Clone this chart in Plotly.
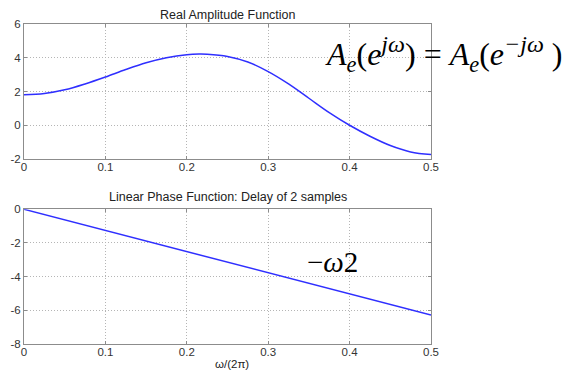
import plotly.graph_objects as go

# Data
freq = [0, 0.025, 0.05, 0.075, 0.1, 0.125, 0.15, 0.175, 0.2, 0.215, 0.225, 0.25,
        0.275, 0.3, 0.325, 0.35, 0.375, 0.4, 0.425, 0.45, 0.475, 0.5]
amplitude = [1.80, 1.88, 2.10, 2.45, 2.86, 3.30, 3.70, 4.00, 4.18, 4.22, 4.21, 4.08,
             3.75, 3.18, 2.45, 1.60, 0.75, 0.00, -0.65, -1.20, -1.58, -1.74]
phase_freq = [0, 0.5]
phase = [0, -6.28]

x_ticks = [0, 0.1, 0.2, 0.3, 0.4, 0.5]
x_tick_labels = ["0", "0.1", "0.2", "0.3", "0.4", "0.5"]
y_ticks_top = [-2, 0, 2, 4, 6]
y_tick_labels_top = ["-2", "0", "2", "4", "6"]
y_ticks_bot = [-8, -6, -4, -2, 0]
y_tick_labels_bot = ["-8", "-6", "-4", "-2", "0"]

# page body has an 8px margin, so the figure is drawn 8px in from the window corner
OFF = 8
W, H = 576 - OFF, 373 - OFF
line_color = "#2f2fff"
frame = "#8c8c8c"
tick_font = dict(family="Liberation Sans, Arial, sans-serif", size=11.5, color="#333333")

fig = go.Figure()
fig.add_trace(go.Scatter(x=freq, y=amplitude, mode="lines", line=dict(color=line_color, width=1.5, shape="spline"),
                         xaxis="x", yaxis="y", showlegend=False, hoverinfo="skip"))
fig.add_trace(go.Scatter(x=phase_freq, y=phase, mode="lines", line=dict(color=line_color, width=1.5),
                         xaxis="x2", yaxis="y2", showlegend=False, hoverinfo="skip"))

def xd(px):
    return (px - OFF) / W

def yd(py):
    return 1 - (py - OFF) / H

axis_common = dict(showline=True, linecolor=frame, linewidth=1, mirror="ticks", ticks="inside", ticklen=3,
                   tickcolor=frame, showgrid=True, gridcolor="#b5b5b5", griddash="1px,2px", gridwidth=1,
                   zeroline=False, tickfont=tick_font, fixedrange=True, automargin=False)

fig.update_layout(
    template="none",
    width=W, height=H,
    margin=dict(l=0, r=0, t=0, b=0),
    paper_bgcolor="white", plot_bgcolor="white",
    xaxis=dict(domain=[xd(24), xd(431)], range=[0, 0.5], tickvals=x_ticks, ticktext=x_tick_labels,
               anchor="y", ticklabelstandoff=-3, **axis_common),
    yaxis=dict(domain=[yd(159), yd(24)], range=[-2, 6], tickvals=y_ticks_top, ticktext=y_tick_labels_top,
               anchor="x", **axis_common),
    xaxis2=dict(domain=[xd(24), xd(431)], range=[0, 0.5], tickvals=x_ticks, ticktext=x_tick_labels,
                anchor="y2", ticklabelstandoff=-3, **axis_common),
    yaxis2=dict(domain=[yd(344), yd(209.3)], range=[-8, 0], tickvals=y_ticks_bot, ticktext=y_tick_labels_bot,
                anchor="x2", **axis_common),
)

small = dict(family="Liberation Sans, Arial, sans-serif", size=12.5, color="#222222")
serif = dict(family="Liberation Serif, Times New Roman, serif", size=32, color="black")

fig.add_annotation(text="Real Amplitude Function", x=xd(227.5), y=yd(15), xref="paper", yref="paper",
                   showarrow=False, font=small, xanchor="center", yanchor="middle")
fig.add_annotation(text="Linear Phase Function: Delay of 2 samples", x=xd(227.5), y=yd(196.5), xref="paper", yref="paper",
                   showarrow=False, font=small, xanchor="center", yanchor="middle")
fig.add_annotation(text="ω/(2π)", x=xd(232), y=yd(364), xref="paper", yref="paper",
                   showarrow=False, font=dict(family="Liberation Sans, Arial, sans-serif", size=11.5, color="#222222"),
                   xanchor="center", yanchor="middle")
fig.add_annotation(text=("<i>A<sub>e</sub></i>(<i>e<sup><span style='font-size:24px'>jω</span></sup></i>) = "
                         "<i>A<sub>e</sub></i>(<i>e<sup><span style='font-size:24px'>−jω</span></sup></i> )"),
                   x=xd(323), y=yd(54), xref="paper", yref="paper", showarrow=False, font=serif,
                   xanchor="left", yanchor="middle")
fig.add_annotation(text="−<i>ω</i>2", x=xd(305), y=yd(262), xref="paper", yref="paper", showarrow=False,
                   font=dict(family="Liberation Serif, Times New Roman, serif", size=29, color="black"),
                   xanchor="left", yanchor="middle")

fig.write_html("out.html")
